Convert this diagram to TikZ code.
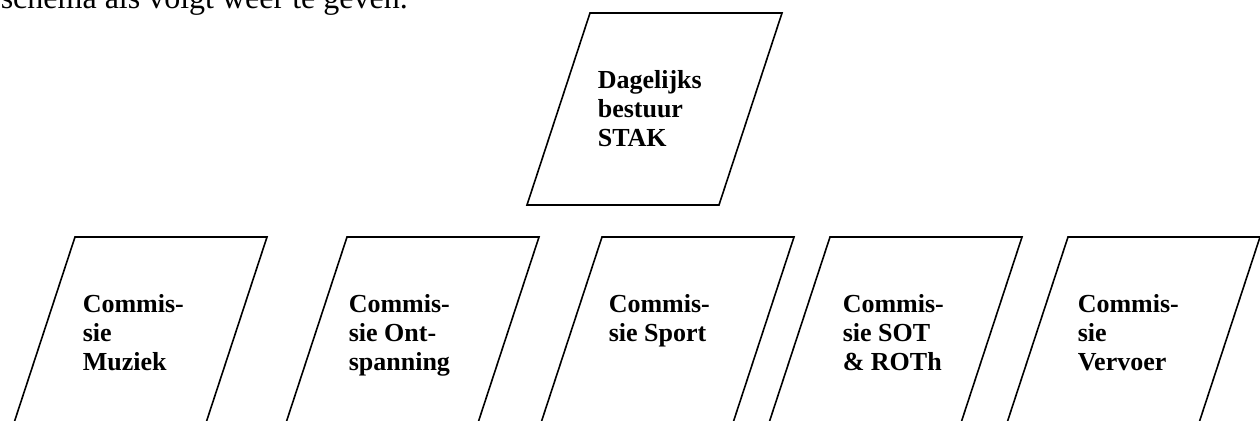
\documentclass[tikz,border=0pt]{standalone}
\usepackage{fontspec}
\setmainfont{Liberation Serif}
\usetikzlibrary{positioning}

\begin{document}
\begin{tikzpicture}[x=0.5pt,y=-0.5pt,line width=0.8pt]
  \tikzstyle{every node}=[inner sep=0pt]
  \tikzstyle{boxtext}=[anchor=north west,align=left,font=\bfseries\fontsize{13}{14.5}\selectfont]
  \tikzstyle{bodytext}=[anchor=base west,font=\fontsize{16}{19}\selectfont]
  \useasboundingbox (0,0) rectangle (1260,421);
  \clip (0,0) rectangle (1260,421);
  \node[bodytext] (txt) at (0,9) {schema als volgt weer te geven.};
  % parallelograms
  \foreach \x/\y in {590/13, 75/237, 347/237, 602/237, 830/237, 1068/237}
    \draw (\x,\y) -- (\x+192,\y) -- (\x+129,\y+192) -- (\x-63,\y+192) -- cycle;
  \node[boxtext] (db) at (597,70) {Dagelijks\\bestuur\\STAK};
  \node[boxtext] (muziek) at (82,294) {Commis-\\sie\\Muziek};
  \node[boxtext] (ontsp) at (348,294) {Commis-\\sie Ont-\\spanning};
  \node[boxtext] (sport) at (608,294) {Commis-\\sie Sport};
  \node[boxtext] (sot) at (842,294) {Commis-\\sie SOT\\\& ROTh};
  \node[boxtext] (vervoer) at (1077,294) {Commis-\\sie\\Vervoer};
\end{tikzpicture}
\end{document}
